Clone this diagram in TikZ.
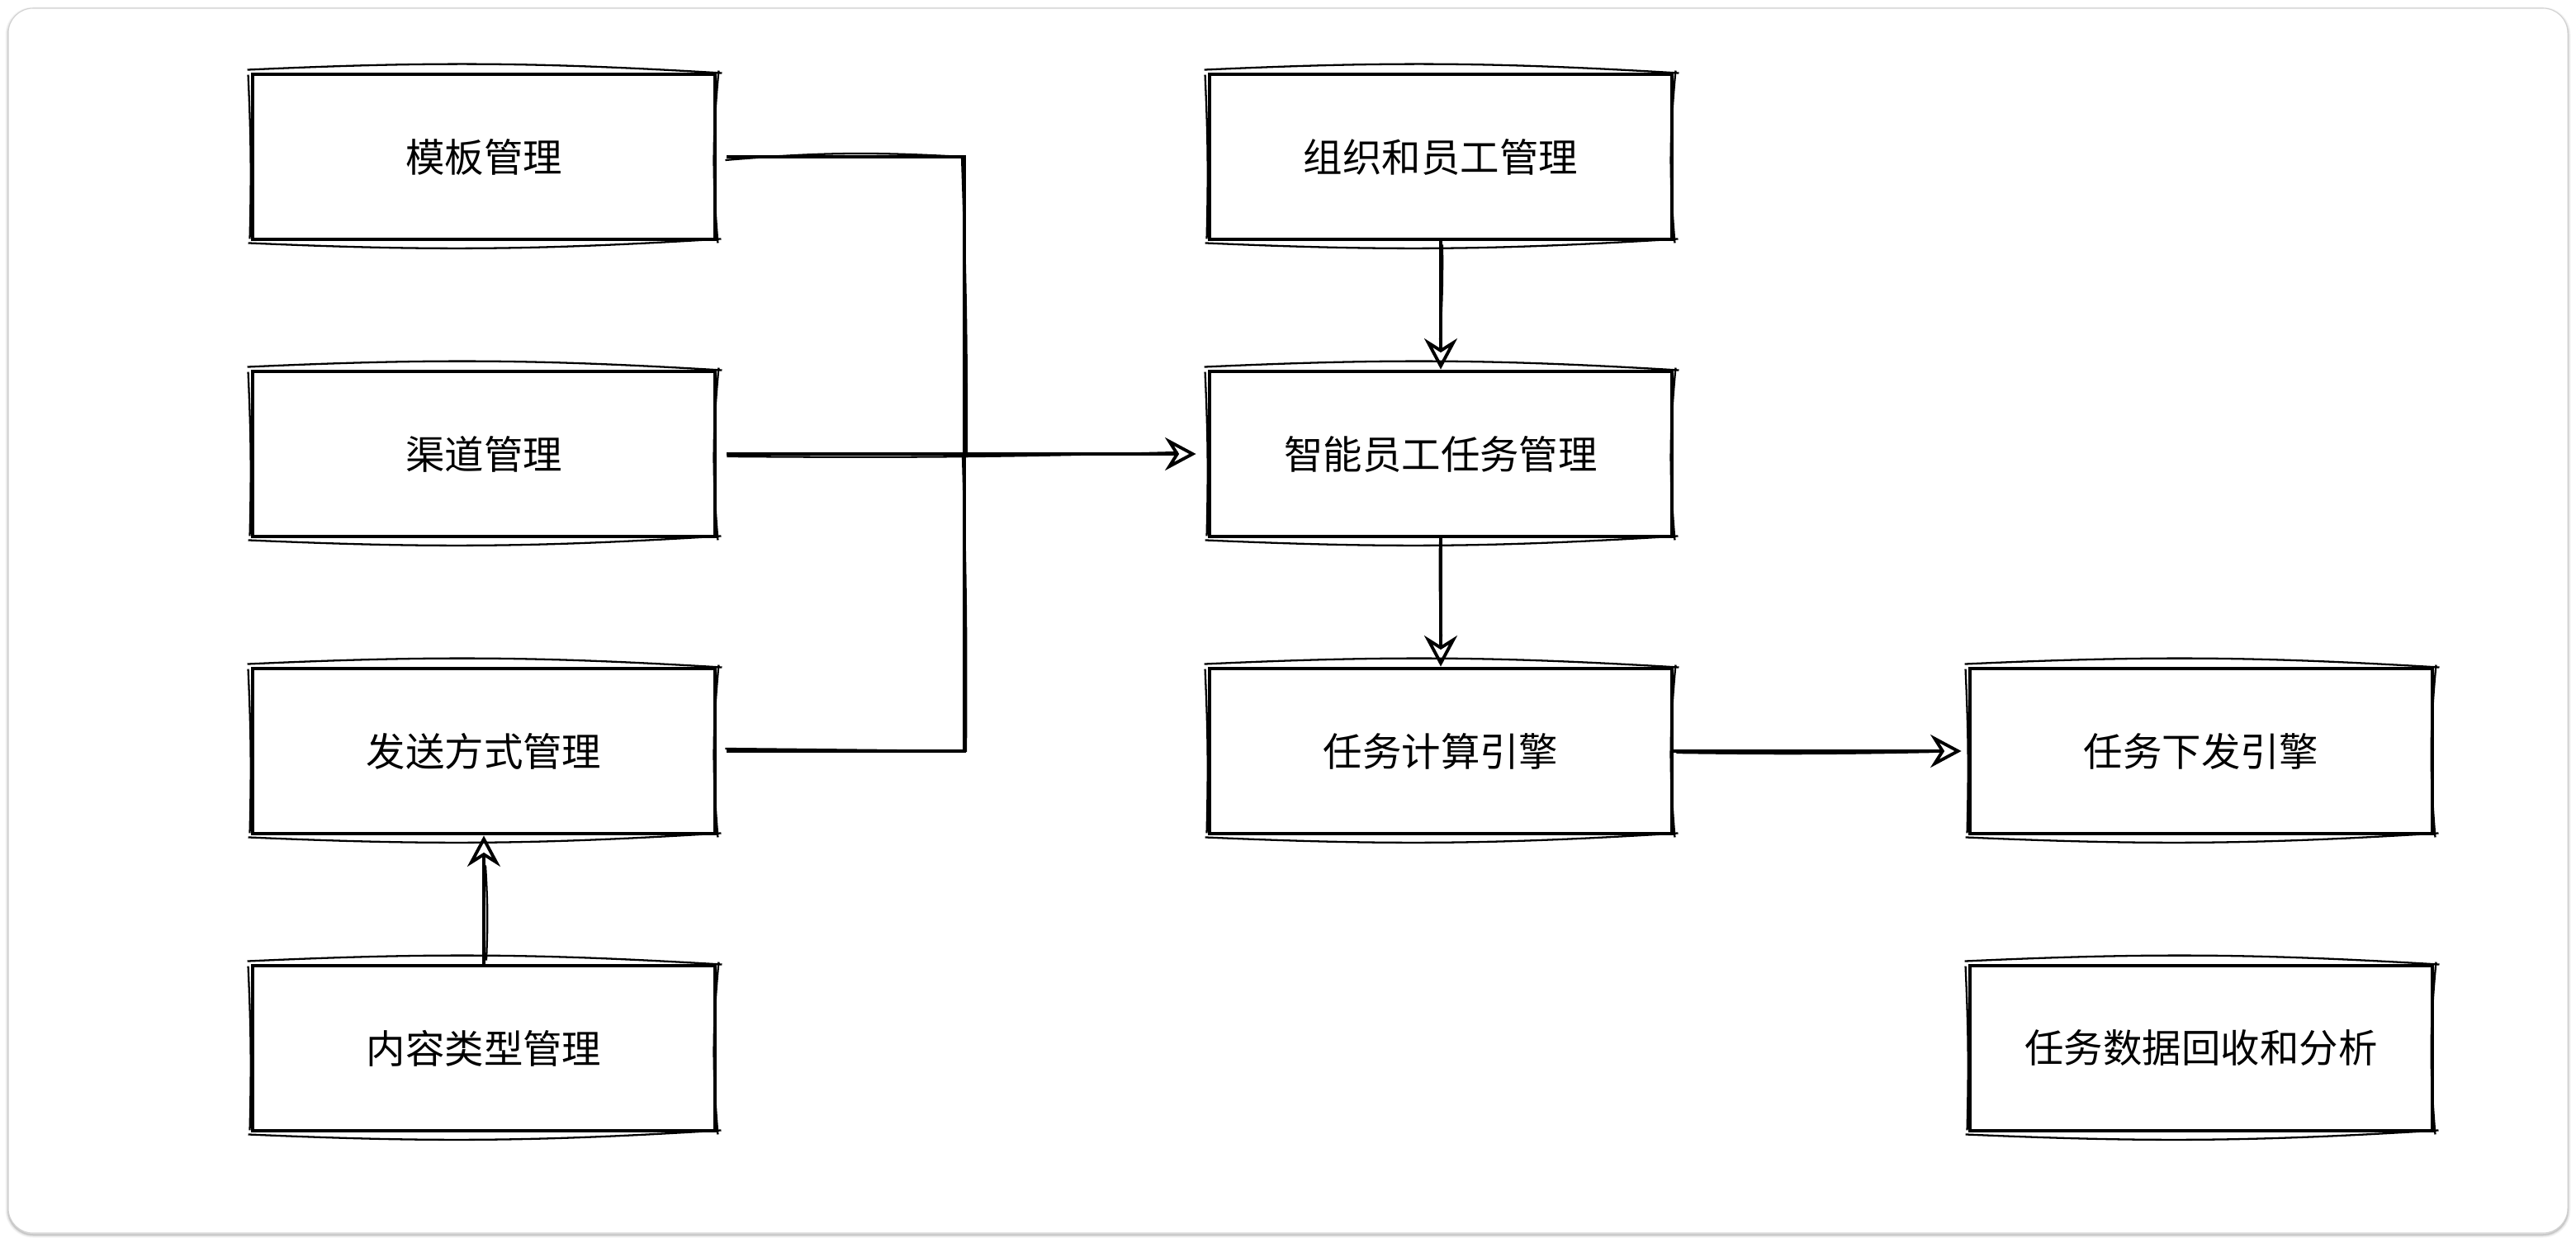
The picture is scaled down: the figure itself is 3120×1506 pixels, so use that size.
\documentclass[tikz,border=0pt]{standalone}
\usepackage{fontspec}
\newfontfamily\cjk{Noto Sans CJK SC}
\usetikzlibrary{arrows.meta,positioning}
\tikzset{
  box/.style={draw=black, line width=2.8pt, fill=white, minimum width=560*0.02cm, minimum height=200*0.02cm, inner sep=0pt,
    font=\cjk\fontsize{27}{32}\selectfont},
  skl/.style={draw=black, line width=1.3pt},
  conn/.style={draw=black, line width=2.3pt},
  tip/.style={-{Stealth[open, length=0.75cm, width=0.8cm, inset=0.25cm, line width=2.2pt]}},
}
\newcommand\skb[1]{%
  \draw[skl] ([shift={(-4,-3)}]#1.north west) to[bend left=3] ([shift={(6,1)}]#1.north east);
  \draw[skl] ([shift={(-3,2)}]#1.south west) to[bend right=3] ([shift={(5,-3)}]#1.south east);
  \draw[skl] ([shift={(2,-2)}]#1.north east) to[bend right=5] ([shift={(1,2)}]#1.south east);
  \draw[skl] ([shift={(-3,3)}]#1.north west) to[bend left=2] ([shift={(-1,-3)}]#1.south west);
}
\begin{document}
\begin{tikzpicture}[x=0.02cm, y=-0.02cm]
\useasboundingbox (0,0) rectangle (3120,1506);
% frame with soft shadow
\foreach \o/\c in {7/4,5/8,3/14,1.5/22}{
  \draw[draw=black!\c, line width=\o*0.02cm, rounded corners=0.6cm] (10,12) rectangle (3110,1496);
}
\draw[draw=black!18, fill=white, line width=0.6pt, rounded corners=0.6cm] (10,10) rectangle (3110,1494);

% nodes
\node[box] (mb) at (586,190) {模板管理};
\node[box] (qd) at (586,550) {渠道管理};
\node[box] (fs) at (586,910) {发送方式管理};
\node[box] (nr) at (586,1270) {内容类型管理};
\node[box] (zz) at (1745,190) {组织和员工管理};
\node[box] (zn) at (1745,550) {智能员工任务管理};
\node[box] (js) at (1745,910) {任务计算引擎};
\node[box] (xf) at (2666,910) {任务下发引擎};
\node[box] (sj) at (2666,1270) {任务数据回收和分析};
\foreach \n in {mb,qd,fs,nr,zz,zn,js,xf,sj}{\skb{\n}}

\coordinate (j) at (1168,553);

% connectors
\draw[conn] ([shift={(12,0)}]mb.east) -| (j);
\draw[skl] ([shift={(10,4)}]mb.east) to[bend left=4] ([shift={(-3,0)}]j |- mb.east) to[bend left=1] ([shift={(3,0)}]j);
\draw[conn] ([shift={(12,0)}]fs.east) -| (j);
\draw[skl] ([shift={(10,-3)}]fs.east) -- ([shift={(2,0)}]j |- fs.east) to[bend right=1] ([shift={(-2,0)}]j);
\draw[conn, tip] ([shift={(12,0)}]qd.east) -- ([shift={(-14,0)}]zn.west);
\draw[skl] ([shift={(12,3)}]qd.east) to[bend right=1] ([shift={(-36,-2)}]zn.west);
\draw[conn, tip] (zz.south) -- (zn.north);
\draw[skl] ([shift={(2,4)}]zz.south) to[bend left=2] ([shift={(-1,-36)}]zn.north);
\draw[conn, tip] (zn.south) -- (js.north);
\draw[skl] ([shift={(-1,4)}]zn.south) to[bend right=2] ([shift={(1,-36)}]js.north);
\draw[conn, tip] (js.east) -- ([shift={(-8,0)}]xf.west);
\draw[skl] ([shift={(3,2)}]js.east) to[bend right=1] ([shift={(-42,1)}]xf.west);
\draw[conn, tip] (nr.north) -- (fs.south);
\draw[skl] ([shift={(3,-4)}]nr.north) to[bend right=3] ([shift={(2,36)}]fs.south);
\end{tikzpicture}
\end{document}
